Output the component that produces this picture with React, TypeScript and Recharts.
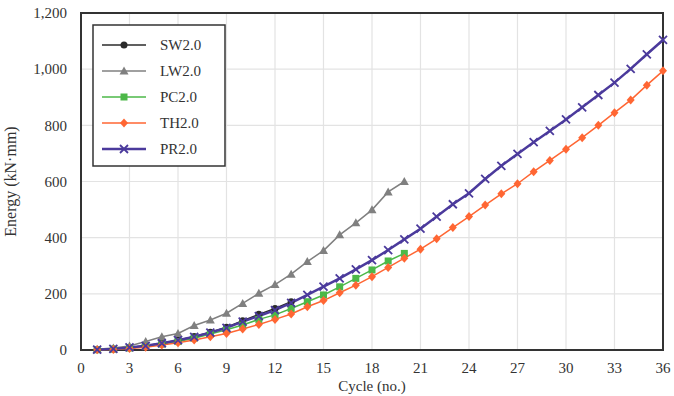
import {
  LineChart,
  Line,
  XAxis,
  YAxis,
  CartesianGrid,
  ReferenceArea,
} from 'recharts';

// cycle numbers (x values)
const CYCLES = [
  1, 2, 3, 4, 5, 6, 7, 8, 9, 10, 11, 12, 13, 14, 15, 16, 17, 18,
  19, 20, 21, 22, 23, 24, 25, 26, 27, 28, 29, 30, 31, 32, 33, 34, 35, 36,
];

// energy per cycle (kN·mm)
const SW = [1, 4, 9, 15, 24, 35, 48, 63, 81, 104, 127, 148, 172];
const LW = [3, 7, 14, 30, 47, 59, 87, 107, 131, 166, 202, 233, 270, 315, 354, 410, 453, 499, 563, 600];
const PC = [1, 3, 7, 13, 21, 30, 42, 57, 72, 89, 109, 125, 148, 172, 196, 225, 255, 285, 317, 344];
const TH = [
  1, 2, 5, 10, 18, 26, 36, 47, 59, 75, 91, 109, 128, 154, 176, 204, 231, 261,
  294, 327, 359, 396, 436, 475, 516, 556, 592, 635, 675, 715, 756, 800, 845, 890, 943, 994,
];
const PR = [
  1, 4, 9, 15, 24, 35, 47, 62, 79, 101, 121, 142, 168, 196, 226, 255, 287, 320,
  356, 394, 432, 475, 519, 558, 609, 656, 698, 740, 780, 821, 864, 908, 952, 1001, 1053, 1104,
];

const X_TICKS = [0, 3, 6, 9, 12, 15, 18, 21, 24, 27, 30, 33, 36];
const Y_TICKS = [0, 200, 400, 600, 800, 1000, 1200];

const FONT = '"Liberation Serif", "Times New Roman", serif';

const SERIES = [
  { key: 'SW', name: 'SW2.0', values: SW, color: '#2b2b2b', shape: 'circle', width: 1.5 },
  { key: 'LW', name: 'LW2.0', values: LW, color: '#808080', shape: 'triangle', width: 1.5 },
  { key: 'PC', name: 'PC2.0', values: PC, color: '#4cb848', shape: 'square', width: 1.5 },
  { key: 'TH', name: 'TH2.0', values: TH, color: '#ff6633', shape: 'diamond', width: 1.5 },
  { key: 'PR', name: 'PR2.0', values: PR, color: '#4b3a9c', shape: 'cross', width: 2.5 },
];

const chartData = CYCLES.map((c, i) => {
  const row: Record<string, number | undefined> = { cycle: c };
  for (const s of SERIES) row[s.key] = s.values[i];
  return row;
});

function Marker({ cx, cy, shape, color }: { cx: number; cy: number; shape: string; color: string }) {
  if (shape === 'circle') return <circle cx={cx} cy={cy} r={3.5} fill={color} />;
  if (shape === 'triangle')
    return <polygon points={`${cx},${cy - 4.5} ${cx + 4.5},${cy + 3.5} ${cx - 4.5},${cy + 3.5}`} fill={color} />;
  if (shape === 'square') return <rect x={cx - 3.5} y={cy - 3.5} width={7} height={7} fill={color} />;
  if (shape === 'diamond')
    return <polygon points={`${cx},${cy - 4.5} ${cx + 4},${cy} ${cx},${cy + 4.5} ${cx - 4},${cy}`} fill={color} />;
  return (
    <path
      d={`M${cx - 4},${cy - 4}L${cx + 4},${cy + 4}M${cx - 4},${cy + 4}L${cx + 4},${cy - 4}`}
      stroke={color}
      strokeWidth={1.8}
    />
  );
}

function LegendBox() {
  return (
    <svg width={134} height={143} style={{ display: 'block' }}>
      <rect x={1} y={1} width={132} height={141} fill="#fff" stroke="#333" strokeWidth={1.5} />
      {SERIES.map((s, i) => {
        const y = 21 + i * 26;
        return (
          <g key={s.key}>
            <line x1={10} x2={54} y1={y} y2={y} stroke={s.color} strokeWidth={s.width} />
            <Marker cx={32} cy={y} shape={s.shape} color={s.color} />
            <text x={68} y={y + 5} fontSize={15} fontFamily={FONT} fill="#333">
              {s.name}
            </text>
          </g>
        );
      })}
    </svg>
  );
}

export default function App() {
  return (
    <div style={{ position: 'absolute', left: 0, top: 0, width: 674, height: 396, background: '#fff' }}>
      <LineChart
        width={674}
        height={396}
        data={chartData}
        margin={{ top: 13, right: 11, bottom: 0, left: 0 }}
      >
        <CartesianGrid stroke="#e3e3e3" strokeWidth={1.2} />
        <XAxis
          dataKey="cycle"
          type="number"
          domain={[0, 36]}
          ticks={X_TICKS}
          interval={0}
          height={46}
          tickLine={false}
          axisLine={false}
          tickMargin={6}
          tick={{ fontSize: 15, fill: '#333', fontFamily: FONT }}
          label={{
            value: 'Cycle (no.)',
            position: 'insideBottom',
            offset: 5,
            fontSize: 15,
            fill: '#333',
            fontFamily: FONT,
          }}
        />
        <YAxis
          type="number"
          domain={[0, 1200]}
          ticks={Y_TICKS}
          interval={0}
          width={81}
          tickLine={false}
          axisLine={false}
          tickMargin={8}
          tickFormatter={(v) => Number(v).toLocaleString('en-US')}
          tick={{ fontSize: 15, fill: '#333', fontFamily: FONT }}
          label={{
            value: 'Energy (kN·mm)',
            angle: -90,
            position: 'insideLeft',
            offset: 10,
            style: { textAnchor: 'middle' },
            fontSize: 16,
            fill: '#333',
            fontFamily: FONT,
          }}
        />
        <ReferenceArea x1={0} x2={36} y1={0} y2={1200} fill="none" stroke="#333" strokeWidth={2} ifOverflow="visible" />
        {SERIES.map((s) => (
          <Line
            key={s.key}
            dataKey={s.key}
            name={s.name}
            stroke={s.color}
            strokeWidth={s.width}
            isAnimationActive={false}
            type="linear"
            dot={(p: any) =>
              p.cx == null || p.cy == null || p.value == null ? (
                <g key={p.key ?? `${s.key}-${p.index}`} />
              ) : (
                <g key={p.key ?? `${s.key}-${p.index}`}>
                  <Marker cx={p.cx} cy={p.cy} shape={s.shape} color={s.color} />
                </g>
              )
            }
            activeDot={false}
          />
        ))}
      </LineChart>
      <div style={{ position: 'absolute', left: 92, top: 24 }}>
        <LegendBox />
      </div>
    </div>
  );
}
